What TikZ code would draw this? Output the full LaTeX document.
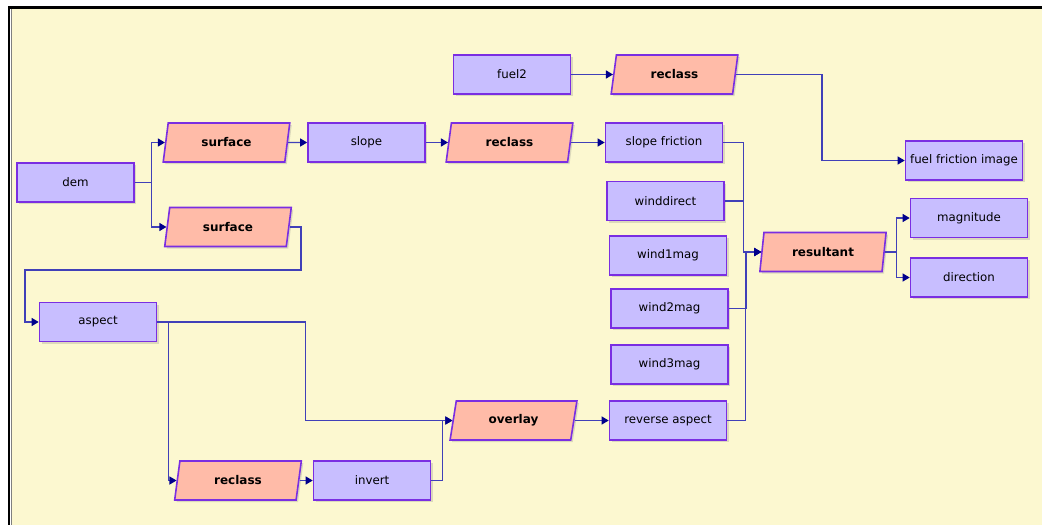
\documentclass[tikz,border=0pt]{standalone}
\usepackage{fontspec}
\setmainfont{DejaVu Sans}
\usepackage{tikz}
\usetikzlibrary{arrows.meta,shapes.geometric,shadows}
\definecolor{bgcol}{RGB}{252,248,208}
\definecolor{boxfill}{RGB}{200,190,255}
\definecolor{boxline}{RGB}{122,46,226}
\definecolor{procfill}{RGB}{255,187,168}
\definecolor{linkcol}{RGB}{64,64,184}
\definecolor{tipcol}{RGB}{0,0,140}

\begin{document}
\begin{tikzpicture}[x=1pt,y=-1pt,line join=miter,
  databox/.style={rectangle,draw=boxline,fill=boxfill,line width=1.6,
    minimum width=117,minimum height=39,inner sep=0pt,
    font=\fontsize{11.8}{13}\selectfont,
    drop shadow={shadow xshift=2pt,shadow yshift=-2pt,opacity=.25}},
  procbox/.style={trapezium,trapezium left angle=77,trapezium right angle=103,
    trapezium stretches=true,draw=boxline,fill=procfill,line width=1.6,
    minimum width=127,minimum height=39,inner sep=0pt,
    font=\fontsize{12}{13}\selectfont\bfseries,
    drop shadow={shadow xshift=2pt,shadow yshift=-2pt,opacity=.25}},
  link/.style={draw=linkcol,line width=1.2,
    -{Triangle[length=7pt,width=8pt,color=tipcol]}}]
\useasboundingbox (0,0) rectangle (1042,525);
%% frame
\fill[white] (0,0) rectangle (1042,525);
\fill[bgcol] (11,9) rectangle (1042,525);
\draw[black,line width=2.5] (8,7.5) -- (1042,7.5);
\draw[black,line width=2.5] (9,7) -- (9,525);
\draw[gray,line width=1] (11,9) -- (11,525);
%
% Node: dem
\node[databox] (dem) at (75.5,182.5) {dem};
% Node: surface (upper)
\node[procbox] (surfA) at (226.5,142.5) {surface};
% Node: surface (lower)
\node[procbox] (surfB) at (228,227) {surface};
% Node: slope
\node[databox] (slope) at (366.5,142.5) {slope};
% Node: reclass (slope)
\node[procbox] (reclA) at (509.5,142.5) {reclass};
% Node: slope friction
\node[databox] (slopefr) at (664,142.5) {slope friction};
% Node: fuel2
\node[databox] (fuel) at (512,74.5) {fuel2};
% Node: reclass (fuel)
\node[procbox] (reclB) at (674.5,74.5) {reclass};
% Node: winds
\node[databox] (winddir) at (665.5,201) {winddirect};
\node[databox] (windA) at (668,255.5) {wind1mag};
\node[databox] (windB) at (669.5,308.5) {wind2mag};
\node[databox] (windC) at (669.5,364.5) {wind3mag};
% Node: reverse aspect
\node[databox] (revasp) at (668,420.5) {reverse aspect};
% Node: resultant
\node[procbox] (result) at (823,252) {resultant};
% Node: fuel friction image
\node[databox] (fuelfr) at (964,160.5) {fuel friction image};
% Node: magnitude, direction
\node[databox] (magn) at (969,218) {magnitude};
\node[databox] (dirn) at (969,277.5) {direction};
% Node: aspect
\node[databox] (aspect) at (98,322) {aspect};
% Node: reclass (aspect)
\node[procbox] (reclC) at (238,480.5) {reclass};
% Node: invert
\node[databox] (invert) at (372,480.5) {invert};
% Node: overlay
\node[procbox] (overlay) at (513.5,420.5) {overlay};
%
\coordinate (bendA) at (301,270);
\coordinate (bendB) at (25,270);
% Edge: dem -> surface
\draw[link] (dem.east) -- ++(17,0) |- (surfA.west);
\draw[link] (dem.east) -- ++(17,0) |- (surfB.west);
% Edge: surface -> slope -> reclass -> slope friction
\draw[link] (surfA.east) -- (slope.west);
\draw[link] (slope.east) -- (reclA.west);
\draw[link] (reclA.east) -- (slopefr.west);
% Edge: fuel2 -> reclass -> fuel friction image
\draw[link] (fuel.east) -- (reclB.west);
\draw[link] (reclB.east) -- ++(86,0) |- (fuelfr.west);
% Edge: surface -> aspect
\draw[link] (surfB.east) -| (bendA) -- (bendB) |- (aspect.west);
% Edge: aspect -> overlay, aspect -> reclass
\draw[link] (aspect.east) -- ++(148,0) |- (overlay.west);
\draw[link] (aspect.east) -- ++(11,0) |- (reclC.west);
% Edge: reclass -> invert -> overlay
\draw[link] (reclC.east) -- (invert.west);
\draw[link] (invert.east) -- ++(11,0) |- (overlay.west);
% Edge: overlay -> reverse aspect
\draw[link] (overlay.east) -- (revasp.west);
% Edge: inputs -> resultant
\draw[link] (slopefr.east) -- ++(20,0) |- (result.west);
\draw[link] (winddir.east) -- ++(19,0) |- (result.west);
\draw[link] (windB.east) -- ++(18,0) |- (result.west);
\draw[link] (revasp.east) -- ++(18,0) |- (result.west);
% Edge: resultant -> magnitude, direction
\draw[link] (result.east) -- ++(12,0) |- (magn.west);
\draw[link] (result.east) -- ++(12,0) |- (dirn.west);
%
\end{tikzpicture}
\end{document}
